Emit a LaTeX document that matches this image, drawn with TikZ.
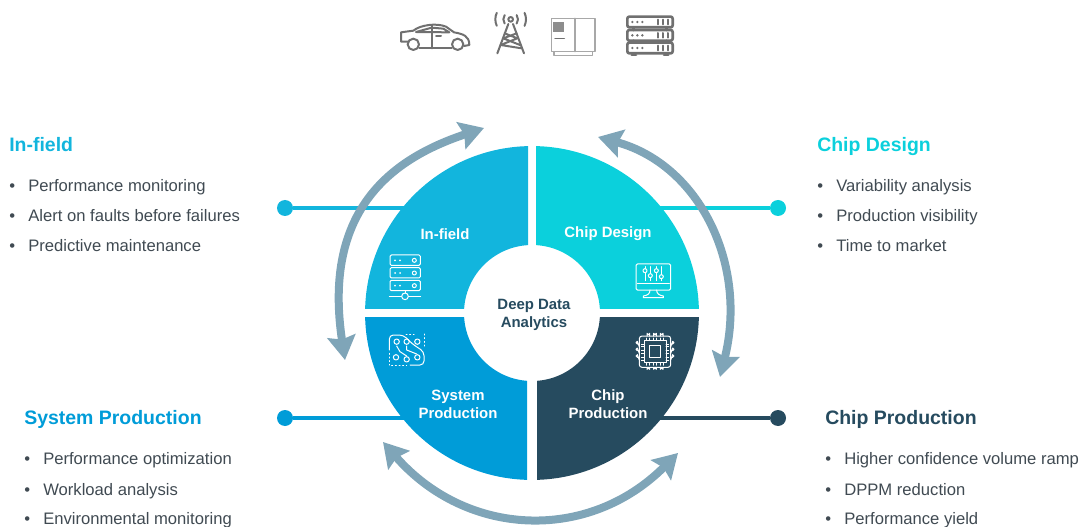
\documentclass[tikz,border=0pt]{standalone}
\usepackage{fontspec}
\setmainfont{Liberation Sans}
\usetikzlibrary{arrows.meta}
\definecolor{cfield}{HTML}{12B5DD}
\definecolor{cdesign}{HTML}{0BD0DC}
\definecolor{csystem}{HTML}{009CD8}
\definecolor{cprod}{HTML}{264B5F}
\definecolor{carc}{HTML}{7FA5B8}
\definecolor{ctext}{HTML}{404A52}
\definecolor{cicon}{HTML}{707070}
\definecolor{cicontwo}{HTML}{A8A8A8}
\newcommand{\bul}[1]{\makebox[14.25pt][l]{•}#1}
\tikzset{
  x=0.75pt,y=-0.75pt,
  dotnode/.style={circle,inner sep=0,minimum size=12pt},
  link/.style={line width=3pt},
  ringarc/.style={draw=carc,line width=6pt,{Stealth[length=18pt,width=21pt,inset=2.5pt]}-{Stealth[length=18pt,width=21pt,inset=2.5pt]}},
  sectorlabel/.style={text=white,font=\bfseries\fontsize{11.2}{13.5}\selectfont,align=center,inner sep=0},
  title/.style={anchor=base west,inner sep=0,font=\bfseries\fontsize{14.6}{16}\selectfont},
  item/.style={anchor=base west,inner sep=0,text=ctext,font=\fontsize{12.47}{14}\selectfont},
  zoomed/.style={x=0.25pt,y=-0.25pt,line join=round,line cap=round},
  wicon/.style={draw=white,line width=0.75pt},
  gicon/.style={draw=cicon,line width=1.5pt},
}
\begin{document}
\begin{tikzpicture}
\useasboundingbox (0,0) rectangle (1081,527);

% connectors
\node[dotnode,fill=cfield] (dfield) at (285,208) {};
\node[dotnode,fill=cdesign] (ddesign) at (778,208) {};
\node[dotnode,fill=csystem] (dsystem) at (285,418) {};
\node[dotnode,fill=cprod] (dprod) at (778,418) {};
\coordinate (efield) at (410,208);
\coordinate (edesign) at (655,208);
\coordinate (esystem) at (410,418);
\coordinate (eprod) at (655,418);
\draw[link,cfield] (dfield) -- (efield);
\draw[link,cdesign] (ddesign) -- (edesign);
\draw[link,csystem] (dsystem) -- (esystem);
\draw[link,cprod] (dprod) -- (eprod);

% ring arrows
\coordinate (la) at (345,360);
\coordinate (lb) at (484,128);
\coordinate (ra) at (598,137);
\coordinate (rb) at (720,377);
\coordinate (ba) at (383,442);
\coordinate (bb) at (678,453);
\path[ringarc] (la) .. controls (322,208) and (394,158) .. (lb);
\path[ringarc] (ra) .. controls (700,165) and (748,265) .. (rb);
\path[ringarc] (ba) .. controls (466,537) and (588,543) .. (bb);

% sectors
\begin{scope}
  \clip (300,100) rectangle (528,308);
  \fill[cfield,even odd rule] (532,313) circle[radius=125.2pt] (532,313) circle[radius=51pt];
\end{scope}
\begin{scope}
  \clip (536,100) rectangle (760,308);
  \fill[cdesign,even odd rule] (532,313) circle[radius=125.2pt] (532,313) circle[radius=51pt];
\end{scope}
\begin{scope}
  \clip (300,317.5) rectangle (527,500);
  \fill[csystem,even odd rule] (532,313) circle[radius=125.2pt] (532,313) circle[radius=51pt];
\end{scope}
\begin{scope}
  \clip (537,317.5) rectangle (760,500);
  \fill[cprod,even odd rule] (532,313) circle[radius=125.2pt] (532,313) circle[radius=51pt];
\end{scope}

% sector labels
\node[sectorlabel] (lfield) at (445,234) {In-field};
\node[sectorlabel] (ldesign) at (608,234) {Chip Design};
\node[sectorlabel] (lsystem) at (458,404.5) {System\\Production};
\node[sectorlabel] (lprod) at (608,404.5) {Chip\\Production};
\node[inner sep=0,align=center,text=cprod,font=\bfseries\fontsize{11.2}{13.5}\selectfont] (center) at (534,315) {Deep Data\\Analytics};

% side texts
\node[title,text=cfield] (tfield) at (9,152) {In-field};
\node[item] (i1) at (9,192) {\bul{Performance monitoring}};
\node[item] (i2) at (9,222) {\bul{Alert on faults before failures}};
\node[item] (i3) at (9,252) {\bul{Predictive maintenance}};
\node[title,text=cdesign] (tdesign) at (817,152) {Chip Design};
\node[item] (i4) at (817,192) {\bul{Variability analysis}};
\node[item] (i5) at (817,222) {\bul{Production visibility}};
\node[item] (i6) at (817,252) {\bul{Time to market}};
\node[title,text=csystem] (tsystem) at (24,424) {System Production};
\node[item] (i7) at (24,464) {\bul{Performance optimization}};
\node[item] (i8) at (24,495) {\bul{Workload analysis}};
\node[item] (i9) at (24,524) {\bul{Environmental monitoring}};
\node[title,text=cprod] (tprod) at (825,424) {Chip Production};
\node[item] (i10) at (825,464) {\bul{Higher confidence volume ramp}};
\node[item] (i11) at (825,495) {\bul{DPPM reduction}};
\node[item] (i12) at (825,524) {\bul{Performance yield}};

% top icons: car, tower, cabinet, server
\begin{scope}[shift={(380,0)},zoomed]
  \draw[gicon] (85,125) -- (63,125) -- (63,97) -- (100,92) .. controls (120,75) and (170,68) .. (198,80) -- (222,97) .. controls (250,102) and (268,108) .. (268,135) -- (252,138);
  \draw[gicon] (118,145) -- (215,145);
  \draw[gicon] (100,133) circle[radius=17] (233,133) circle[radius=17];
  \draw[gicon] (108,96) -- (155,83) -- (190,86) -- (208,97) -- cycle;
  \draw[gicon] (155,75) -- (155,145) (168,107) -- (183,107);
  % tower
  \draw[gicon] (392,58) circle[radius=7];
  \draw[gicon] (385,72) -- (352,160) (399,72) -- (432,160);
  \draw[gicon] (374,100) -- (412,115) -- (362,135) -- (425,145) (410,100) -- (370,115) -- (420,135);
  \draw[gicon] ([shift={(145:22)}]392,58) arc[start angle=145,end angle=215,radius=22];
  \draw[gicon] ([shift={(35:22)}]392,58) arc[start angle=35,end angle=-35,radius=22];
  \draw[gicon] ([shift={(155:46)}]392,58) arc[start angle=155,end angle=205,radius=46];
  \draw[gicon] ([shift={(25:46)}]392,58) arc[start angle=25,end angle=-25,radius=46];
  % cabinet
  \draw[draw=cicontwo,line width=1pt] (515,55) rectangle (645,155) (585,55) -- (585,155);
  \draw[draw=cicontwo,line width=1pt] (522,155) -- (522,167) -- (638,167) -- (638,155);
  \fill[cicon!80] (520,65) rectangle (553,97);
  \draw[cicon,line width=1pt] (525,115) -- (553,115);
  % server
  \foreach \y in {50,90,128} {
    \draw[draw=cicon,line width=2pt,rounded corners=1.5pt] (742,\y) rectangle (878,\y+32);
    \fill[cicon] (757,\y+16) circle[radius=4] (772,\y+16) circle[radius=4] (787,\y+16) circle[radius=4];
    \draw[cicon,line width=1.5pt] (835,\y+9) -- (835,\y+23) (850,\y+9) -- (850,\y+23) (865,\y+9) -- (865,\y+23);
  }
  \draw[draw=cicon,line width=2pt] (760,82) -- (760,90) (860,82) -- (860,90) (760,122) -- (760,128) (860,122) -- (860,128) (755,165) -- (768,165) (852,165) -- (865,165);
\end{scope}

% in-field icon
\begin{scope}[shift={(320,110)},zoomed]
  \foreach \y in {435,473,511} {
    \draw[wicon,rounded corners=1pt] (210,\y) rectangle (301,\y+31);
    \fill[white] (225,\y+16) circle[radius=3] (240,\y+16) circle[radius=3];
    \draw[wicon] (283,\y+16) circle[radius=6];
  }
  \draw[wicon] (208,558) -- (244,558) (266,558) -- (302,558) (255,542) -- (255,548);
  \draw[wicon] (255,559) circle[radius=10];
\end{scope}

% chip design icon
\begin{scope}[shift={(530,110)},zoomed]
  \draw[wicon,rounded corners=1pt] (318,462) rectangle (422,540);
  \draw[wicon] (322,521) -- (418,521);
  \draw[wicon] (360,540) .. controls (360,552) and (352,556) .. (340,558) -- (340,563) -- (400,563) -- (400,558) .. controls (388,556) and (380,552) .. (380,540);
  \foreach \x/\k in {345/482,361/497,379/482,394/500} {
    \draw[wicon] (\x,470) -- (\x,512);
    \draw[wicon,fill=cdesign] (\x,\k) circle[radius=6];
  }
\end{scope}

% system icon
\begin{scope}[shift={(320,310)},zoomed]
  \draw[wicon,rounded corners=3pt] (208,120) -- (208,75) -- (250,75) -- (275,100) -- (292,112) -- (312,125) -- (312,165) -- (270,165);
  \draw[wicon] (230,108) -- (240,125) -- (260,138) (260,108) -- (260,120) -- (290,132);
  \draw[wicon] (230,95) circle[radius=8] (260,95) circle[radius=8] (292,95) circle[radius=8];
  \draw[wicon] (228,142) circle[radius=8] (260,148) circle[radius=8] (292,142) circle[radius=8];
  \draw[wicon,dotted] (258,72) -- (282,72) (312,72) -- (312,110) (208,130) -- (208,165) (215,165) -- (260,165);
\end{scope}

% chip production icon
\begin{scope}[shift={(530,310)},zoomed]
  \draw[wicon,rounded corners=2pt] (328,78) rectangle (422,172);
  \draw[wicon] (342,92) rectangle (408,158);
  \draw[wicon] (357,105) rectangle (391,142);
  \foreach \a in {355,375,395} {
    \draw[wicon] (\a-4,78) -- (\a-4,70) arc[start angle=180,end angle=0,radius=4] -- (\a+4,78);
    \draw[wicon] (\a-4,172) -- (\a-4,178) arc[start angle=180,end angle=360,radius=4] -- (\a+4,172);
    \draw[wicon,line width=0.5pt] (\a-5,92) -- (\a-5,84) (\a+4,92) -- (\a+4,84) (\a-5,158) -- (\a-5,166) (\a+4,158) -- (\a+4,166);
  }
  \foreach \b in {102,122,142} {
    \draw[wicon] (328,\b) -- (322,\b) arc[start angle=90,end angle=270,radius=4] -- (328,\b+8);
    \draw[wicon] (422,\b) -- (428,\b) arc[start angle=90,end angle=-90,radius=4] -- (422,\b+8);
    \draw[wicon,line width=0.5pt] (342,\b) -- (334,\b) (342,\b+8) -- (334,\b+8) (408,\b) -- (416,\b) (408,\b+8) -- (416,\b+8);
  }
\end{scope}
\end{tikzpicture}
\end{document}
